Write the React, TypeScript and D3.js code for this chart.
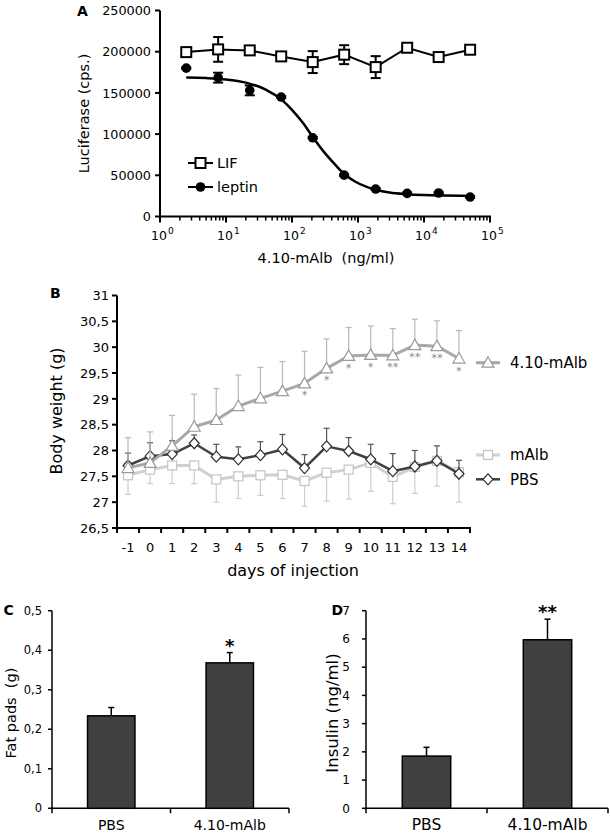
import React from 'react';
import * as d3 from 'd3';

// ---------- Panel A data ----------
const concentrations = [2.5, 7.6, 22.9, 68.6, 206, 617, 1852, 5556, 16667, 50000];
const lifMean = [199500, 202800, 201600, 194300, 187400, 196400, 181300, 204800, 193500, 202400];
const lifErr = [1500, 15000, 1500, 3000, 13300, 11500, 13300, 1500, 1500, 1500];
const leptinMean = [180100, 168500, 153100, 145000, 95500, 50200, 33300, 28100, 28500, 23600];
const leptinErr = [1000, 6000, 6000, 1000, 1000, 1000, 1000, 1000, 1000, 1000];
const fitConc = [2.5, 5, 10, 20, 40, 70, 100, 150, 200, 300, 450, 620, 900, 1300, 1850, 3000, 5500, 10000, 20000, 50000];
const fitLeptin = [168600, 168000, 166400, 162500, 154000, 141500, 129500, 112500, 98000, 79000, 63000, 51500, 42500, 36500, 32500, 29000, 27000, 26000, 25400, 25000];
const yTicksA = [0, 50000, 100000, 150000, 200000, 250000];
const decadesA = [0, 1, 2, 3, 4, 5];

// ---------- Panel B data ----------
const days = ['-1', '0', '1', '2', '3', '4', '5', '6', '7', '8', '9', '10', '11', '12', '13', '14'];
const albMean = [27.66, 27.76, 28.09, 28.46, 28.59, 28.86, 29.01, 29.15, 29.30, 29.59, 29.83, 29.85, 29.84, 30.04, 30.02, 29.78];
const albErr = [0.59, 0.6, 0.59, 0.63, 0.61, 0.6, 0.6, 0.57, 0.62, 0.57, 0.55, 0.56, 0.52, 0.5, 0.49, 0.54];
const albSig = ['', '', '', '', '', '', '', '', '*', '*', '*', '*', '**', '**', '**', '*'];
const mAlbMean = [27.52, 27.63, 27.71, 27.71, 27.44, 27.5, 27.52, 27.53, 27.41, 27.57, 27.63, 27.76, 27.49, 27.68, 27.8, 27.58];
const mAlbErr = [0.37, 0.27, 0.35, 0.35, 0.44, 0.43, 0.39, 0.46, 0.49, 0.55, 0.57, 0.55, 0.52, 0.51, 0.49, 0.58];
const pbsMean = [27.71, 27.89, 27.93, 28.14, 27.88, 27.83, 27.91, 28.02, 27.66, 28.08, 27.99, 27.83, 27.6, 27.69, 27.8, 27.55];
const pbsErr = [0.24, 0.26, 0.26, 0.16, 0.24, 0.24, 0.26, 0.29, 0.26, 0.35, 0.26, 0.29, 0.34, 0.31, 0.29, 0.26];
const yTicksB = [26.5, 27, 27.5, 28, 28.5, 29, 29.5, 30, 30.5, 31];

// ---------- Panels C / D data ----------
const groups = ['PBS', '4.10-mAlb'];
const fatMean = [0.234, 0.368];
const fatErr = [0.021, 0.026];
const fatSig = ['', '*'];
const yTicksC = [0, 0.1, 0.2, 0.3, 0.4, 0.5];
const insulinMean = [1.85, 5.97];
const insulinErr = [0.31, 0.73];
const insulinSig = ['', '**'];
const yTicksD = [0, 1, 2, 3, 4, 5, 6, 7];

const FONT = "'DejaVu Sans', Verdana, sans-serif";
const comma = (v: number) => String(v).replace('.', ',');

function PanelA() {
  const x = d3.scaleLog().domain([1, 1e5]).range([160, 490]);
  const y = d3.scaleLinear().domain([0, 250000]).range([216.5, 10.5]);
  const [x0, x1] = x.range();
  const [y0, y1] = y.range();
  const minors: number[] = [];
  for (let k = 0; k < 5; k++) for (let m = 2; m < 10; m++) minors.push(m * Math.pow(10, k));
  const lifLine = d3.line<number>().x((_, i) => x(concentrations[i])).y(d => y(d))(lifMean) || '';
  const fitLine = d3.line<number>().x((_, i) => x(fitConc[i])).y(d => y(d)).curve(d3.curveMonotoneX)(fitLeptin) || '';
  return (
    <g fontFamily={FONT}>
      <text x={77} y={15.5} fontSize={14} fontWeight="bold">A</text>
      <line x1={x0} x2={x0} y1={y0 + 1} y2={y1} stroke="#000" strokeWidth={2} />
      <line x1={x0 - 1} x2={x1 + 1} y1={y0} y2={y0} stroke="#000" strokeWidth={2} />
      {yTicksA.map(t => (
        <g key={t}>
          <line x1={x0 - 5} x2={x0} y1={y(t)} y2={y(t)} stroke="#000" strokeWidth={2} />
          <text x={x0 - 9} y={y(t)} dy="0.36em" textAnchor="end" fontSize={12.8}>{t}</text>
        </g>
      ))}
      {minors.map(c => (
        <line key={c} x1={x(c)} x2={x(c)} y1={y0} y2={y0 + 4} stroke="#000" strokeWidth={1.5} />
      ))}
      {decadesA.map(k => (
        <g key={k}>
          <line x1={x(Math.pow(10, k))} x2={x(Math.pow(10, k))} y1={y0} y2={y0 + 6} stroke="#000" strokeWidth={2} />
          <text x={x(Math.pow(10, k)) + 7} y={240} textAnchor="end" fontSize={12.5}>10</text>
          <text x={x(Math.pow(10, k)) + 8} y={234} fontSize={9}>{k}</text>
        </g>
      ))}
      <text transform={`translate(89,113.5) rotate(-90)`} textAnchor="middle" fontSize={14.5}>Luciferase (cps.)</text>
      <text x={326} y={262.5} textAnchor="middle" fontSize={14.5} style={{ whiteSpace: 'pre' }}>4.10-mAlb  (ng/ml)</text>
      <path d={lifLine} fill="none" stroke="#000" strokeWidth={2} />
      {concentrations.map((c, i) => (
        <g key={'le' + i} stroke="#000" strokeWidth={2}>
          <line x1={x(c)} x2={x(c)} y1={y(lifMean[i] - lifErr[i])} y2={y(lifMean[i] + lifErr[i])} />
          <line x1={x(c) - 5} x2={x(c) + 5} y1={y(lifMean[i] - lifErr[i])} y2={y(lifMean[i] - lifErr[i])} />
          <line x1={x(c) - 5} x2={x(c) + 5} y1={y(lifMean[i] + lifErr[i])} y2={y(lifMean[i] + lifErr[i])} />
        </g>
      ))}
      {concentrations.map((c, i) => (
        <rect key={'ls' + i} x={x(c) - 5} y={y(lifMean[i]) - 5} width={10} height={10} fill="#fff" stroke="#000" strokeWidth={2} />
      ))}
      <path d={fitLine} fill="none" stroke="#000" strokeWidth={2.5} />
      {concentrations.map((c, i) => (
        <g key={'pe' + i} stroke="#000" strokeWidth={2}>
          <line x1={x(c)} x2={x(c)} y1={y(leptinMean[i] - leptinErr[i])} y2={y(leptinMean[i] + leptinErr[i])} />
          <line x1={x(c) - 5} x2={x(c) + 5} y1={y(leptinMean[i] - leptinErr[i])} y2={y(leptinMean[i] - leptinErr[i])} />
          <line x1={x(c) - 5} x2={x(c) + 5} y1={y(leptinMean[i] + leptinErr[i])} y2={y(leptinMean[i] + leptinErr[i])} />
        </g>
      ))}
      {concentrations.map((c, i) => (
        <circle key={'pc' + i} cx={x(c)} cy={y(leptinMean[i])} r={4.8} fill="#000" />
      ))}
      <line x1={188} x2={213} y1={163} y2={163} stroke="#000" strokeWidth={2} />
      <rect x={195.5} y={158} width={10} height={10} fill="#fff" stroke="#000" strokeWidth={2} />
      <text x={217} y={163} dy="0.36em" fontSize={14.5}>LIF</text>
      <line x1={188} x2={213} y1={187} y2={187} stroke="#000" strokeWidth={2} />
      <circle cx={200.5} cy={187} r={4.8} fill="#000" />
      <text x={217} y={187} dy="0.36em" fontSize={14.5}>leptin</text>
    </g>
  );
}

type SeriesB = { mean: number[]; err: number[]; dir: number; line: string; lw: number; mark: string; errColor: string; shape: string };

function marker(shape: string, cx: number, cy: number, stroke: string, key?: string) {
  if (shape === 'tri') {
    const p = `M${cx},${cy - 6}L${cx + 6},${cy + 4.5}L${cx - 6},${cy + 4.5}Z`;
    return <path key={key} d={p} fill="#fff" stroke={stroke} strokeWidth={1.2} />;
  }
  if (shape === 'sq') {
    return <rect key={key} x={cx - 4.5} y={cy - 4.5} width={9} height={9} fill="#fff" stroke={stroke} strokeWidth={1.2} />;
  }
  const p = `M${cx},${cy - 5.5}L${cx + 5},${cy}L${cx},${cy + 5.5}L${cx - 5},${cy}Z`;
  return <path key={key} d={p} fill="#fff" stroke={stroke} strokeWidth={1.2} />;
}

function PanelB() {
  const x = d3.scaleBand<string>().domain(days).range([117, 470]);
  const y = d3.scaleLinear().domain([26.5, 31]).range([528, 295.5]);
  const bw = x.bandwidth();
  const cx = (d: string) => (x(d) as number) + bw / 2;
  const [x0, x1] = x.range();
  const [y0, y1] = y.range();
  const series: SeriesB[] = [
    { mean: mAlbMean, err: mAlbErr, dir: -1, line: '#d0d0d0', lw: 3, mark: '#c4c4c4', errColor: '#cdcdcd', shape: 'sq' },
    { mean: pbsMean, err: pbsErr, dir: 1, line: '#404040', lw: 2.5, mark: '#303030', errColor: '#555', shape: 'dia' },
    { mean: albMean, err: albErr, dir: 1, line: '#a8a8a8', lw: 3, mark: '#9a9a9a', errColor: '#b8b8b8', shape: 'tri' },
  ];
  const boundaries = d3.range(days.length + 1).map(i => x0 + i * bw);
  return (
    <g fontFamily={FONT}>
      <text x={50} y={298} fontSize={14} fontWeight="bold">B</text>
      <line x1={x0} x2={x0} y1={y0 + 1} y2={y1} stroke="#000" strokeWidth={2} />
      <line x1={x0 - 1} x2={x1 + 1} y1={y0} y2={y0} stroke="#000" strokeWidth={2} />
      {yTicksB.map(t => (
        <g key={t}>
          <line x1={x0 - 5} x2={x0} y1={y(t)} y2={y(t)} stroke="#000" strokeWidth={2} />
          <text x={x0 - 8} y={y(t)} dy="0.36em" textAnchor="end" fontSize={13}>{comma(t)}</text>
        </g>
      ))}
      {boundaries.map((b, i) => (
        <line key={i} x1={b} x2={b} y1={y0} y2={y0 + 5} stroke="#000" strokeWidth={2} />
      ))}
      {days.map(d => (
        <text key={d} x={cx(d)} y={551.5} textAnchor="middle" fontSize={13}>{d}</text>
      ))}
      <text x={293} y={576} textAnchor="middle" fontSize={16}>days of injection</text>
      <text transform={`translate(62,411) rotate(-90)`} textAnchor="middle" fontSize={16}>Body weight (g)</text>
      {series.map((s, si) => {
        const path = d3.line<number>().x((_, i) => cx(days[i])).y(v => y(v))(s.mean) || '';
        return (
          <g key={si}>
            {days.map((d, i) => {
              const e = y(s.mean[i] + s.dir * s.err[i]);
              return (
                <g key={d} stroke={s.errColor} strokeWidth={1.2}>
                  <line x1={cx(d)} x2={cx(d)} y1={y(s.mean[i])} y2={e} />
                  <line x1={cx(d) - 3} x2={cx(d) + 3} y1={e} y2={e} />
                </g>
              );
            })}
            <path d={path} fill="none" stroke={s.line} strokeWidth={s.lw} strokeLinejoin="round" />
            {days.map((d, i) => marker(s.shape, cx(d), y(s.mean[i]), s.mark, d))}
          </g>
        );
      })}
      {days.map((d, i) => albSig[i] ? (
        <text key={'s' + d} x={cx(d)} y={y(albMean[i]) + 16} textAnchor="middle" fontSize={11.5}
          fill="#888888" style={{ WebkitFontSmoothing: 'antialiased' } as any} textRendering="geometricPrecision">{albSig[i]}</text>
      ) : null)}
      {[
        { label: '4.10-mAlb', yy: 362.7, s: series[2] },
        { label: 'mAlb', yy: 455, s: series[0] },
        { label: 'PBS', yy: 479.3, s: series[1] },
      ].map(l => (
        <g key={l.label}>
          <line x1={476} x2={500} y1={l.yy} y2={l.yy} stroke={l.s.line} strokeWidth={l.s.lw} />
          {marker(l.s.shape, 488, l.yy, l.s.mark)}
          <text x={510} y={l.yy} dy="0.36em" fontSize={15}>{l.label}</text>
        </g>
      ))}
    </g>
  );
}

function BarPanel(props: {
  letter: string; letterX: number; range: [number, number]; max: number; ticks: number[];
  mean: number[]; err: number[]; sig: string[]; yLabel: string; yLabelX: number; yLabelSize: number;
  tickLabelX: number; tickSize: number; catSize: number;
}) {
  const x = d3.scaleBand<string>().domain(groups).range(props.range);
  const y = d3.scaleLinear().domain([0, props.max]).range([808.3, 610.7]);
  const bw = x.bandwidth();
  const [x0, x1] = x.range();
  const [y0, y1] = y.range();
  const barW = bw * 0.4;
  return (
    <g fontFamily={FONT}>
      <text x={props.letterX} y={615} fontSize={14} fontWeight="bold">{props.letter}</text>
      <line x1={x0} x2={x0} y1={y0 + 1} y2={y1} stroke="#000" strokeWidth={1.5} />
      <line x1={x0 - 1} x2={x1} y1={y0} y2={y0} stroke="#000" strokeWidth={1.5} />
      {props.ticks.map(t => (
        <g key={t}>
          <line x1={x0 - 4} x2={x0} y1={y(t)} y2={y(t)} stroke="#000" strokeWidth={1.5} />
          <text x={props.tickLabelX} y={y(t)} dy="0.36em" textAnchor="end" fontSize={props.tickSize}>{comma(t)}</text>
        </g>
      ))}
      {[0, 1, 2].map(i => (
        <line key={i} x1={x0 + i * bw} x2={x0 + i * bw} y1={y0} y2={y0 + 5} stroke="#000" strokeWidth={1.5} />
      ))}
      {groups.map((g, i) => {
        const c = (x(g) as number) + bw / 2;
        const top = y(props.mean[i]);
        const et = y(props.mean[i] + props.err[i]);
        return (
          <g key={g}>
            <line x1={c} x2={c} y1={top} y2={et} stroke="#000" strokeWidth={1.5} />
            <line x1={c - 3} x2={c + 3} y1={et} y2={et} stroke="#000" strokeWidth={1.5} />
            <rect x={c - barW / 2} y={top} width={barW} height={y0 - top} fill="#404040" stroke="#000" strokeWidth={1.5} />
            {props.sig[i] ? (
              <text x={c} y={et - 1} textAnchor="middle" fontSize={18} fontWeight="bold">{props.sig[i]}</text>
            ) : null}
            <text x={c} y={830} textAnchor="middle" fontSize={props.catSize}>{g}</text>
          </g>
        );
      })}
      <text transform={`translate(${props.yLabelX},713) rotate(-90)`} textAnchor="middle" fontSize={props.yLabelSize} style={{ whiteSpace: 'pre' }}>{props.yLabel}</text>
    </g>
  );
}

export default function App() {
  return (
    <svg width={610} height={835} style={{ position: 'absolute', left: 0, top: 0, background: '#fff' }}>
      <rect width={610} height={835} fill="#fff" />
      <PanelA />
      <PanelB />
      <BarPanel letter="C" letterX={3.5} range={[52, 289]} max={0.5} ticks={yTicksC}
        mean={fatMean} err={fatErr} sig={fatSig} yLabel="Fat pads  (g)" yLabelX={16} yLabelSize={14.5}
        tickLabelX={42} tickSize={11.5} catSize={14} />
      <BarPanel letter="D" letterX={331.5} range={[366, 608]} max={7} ticks={yTicksD}
        mean={insulinMean} err={insulinErr} sig={insulinSig} yLabel="Insulin (ng/ml)" yLabelX={338} yLabelSize={16.5}
        tickLabelX={350} tickSize={12} catSize={15.5} />
    </svg>
  );
}
